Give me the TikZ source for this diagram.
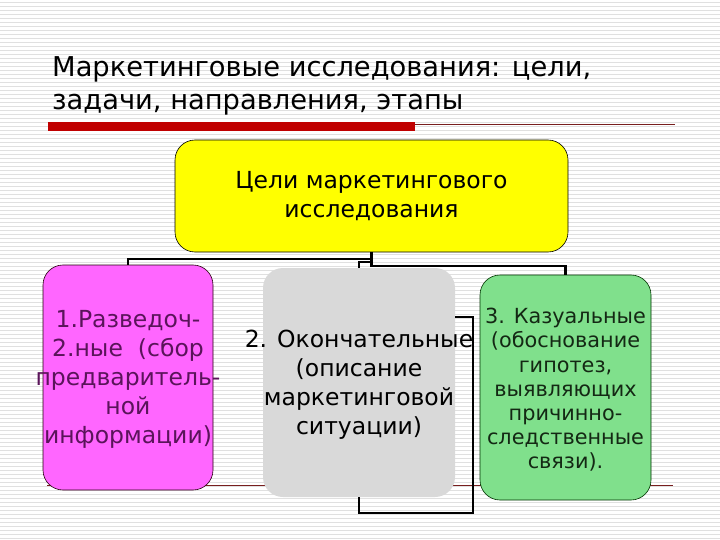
\documentclass[tikz,border=0pt]{standalone}
\usepackage{fontspec}
\setmainfont{DejaVu Sans}
\usetikzlibrary{positioning,calc}

\definecolor{goalyellow}{RGB}{255,255,0}
\definecolor{explorpink}{RGB}{255,102,255}
\definecolor{finalgrey}{RGB}{217,217,217}
\definecolor{causalgreen}{RGB}{128,224,140}
\definecolor{barred}{RGB}{192,0,0}
\definecolor{rulered}{RGB}{120,30,30}
\definecolor{pinkink}{RGB}{90,20,90}
\definecolor{greenink}{RGB}{20,40,20}

\tikzset{
  stripe/.style={gray!24, line width=0.9pt},
  box/.style={rounded corners=20pt, line width=0.6pt, inner sep=0pt},
  conn/.style={black, line width=2.2pt},
  bigtext/.style={align=center, font=\fontsize{23.5}{29}\selectfont},
  smalltext/.style={align=center, font=\fontsize{20.8}{24.2}\selectfont},
}

\begin{document}
\begin{tikzpicture}[x=1pt,y=-1pt]
      \useasboundingbox (0,0) rectangle (720,540);
      \fill[white] (0,0) rectangle (720,540);
      \foreach \y in {2,6,...,538}
        \draw[stripe] (0,\y) -- (720,\y);

      \node[anchor=base west, inner sep=0pt, font=\fontsize{27.3}{33}\selectfont] (title1) at (52,77) {Маркетинговые исследования: цели,};
      \node[anchor=base west, inner sep=0pt, font=\fontsize{27.3}{33}\selectfont] (title2) at (52,110) {задачи, направления, этапы};

      \draw[rulered, line width=0.8pt] (48,124) -- (675,124);
      \fill[barred] (48,122) rectangle (415,131);
      \draw[rulered, line width=0.8pt] (47,485) -- (673,485);

      \node[box, draw=black, fill=goalyellow, minimum width=393pt, minimum height=112pt] (goal) at (371.5,196) {};
      \node[box, draw=black!80!purple, fill=explorpink, minimum width=170pt, minimum height=225pt] (explor) at (128,377.5) {};
      \node[box, fill=finalgrey, minimum width=192pt, minimum height=229pt] (final) at (359,382.5) {};
      \node[box, draw=black!80!green, fill=causalgreen, minimum width=171pt, minimum height=225pt] (causal) at (565.5,387.5) {};

      \draw[conn] (goal.south) -- ++(0,14) -| (causal.north);
      \draw[conn] (goal.south) -- ++(0,7) -| (explor.north);
      \draw[conn] ($(goal.south)+(0,10)$) -| (final.north);
      \coordinate (finalside) at ($(final.north east)+(0,49)$);
      \draw[conn] (final.south) -- ++(0,16) -| ($(finalside)+(18,0)$) -- (finalside);

      \node[bigtext] (goaltext) at (goal.center) {Цели маркетингового\\исследования};
      \node[bigtext, text=pinkink] (explortext) at ($(explor.center)+(0,2)$) {1.Разведоч-\\2.ные\ \ (сбор\\предваритель-\\ной\\информации)};
      \node[bigtext] (finaltext) at ($(final.center)+(0,2)$) {2. Окончательные\\(описание\\маркетинговой\\ситуации)};
      \node[smalltext, text=greenink] (causaltext) at ($(causal.center)+(0,2.5)$) {3. Казуальные\\(обоснование\\гипотез,\\выявляющих\\причинно-\\следственные\\связи).};
    \end{tikzpicture}
\end{document}
